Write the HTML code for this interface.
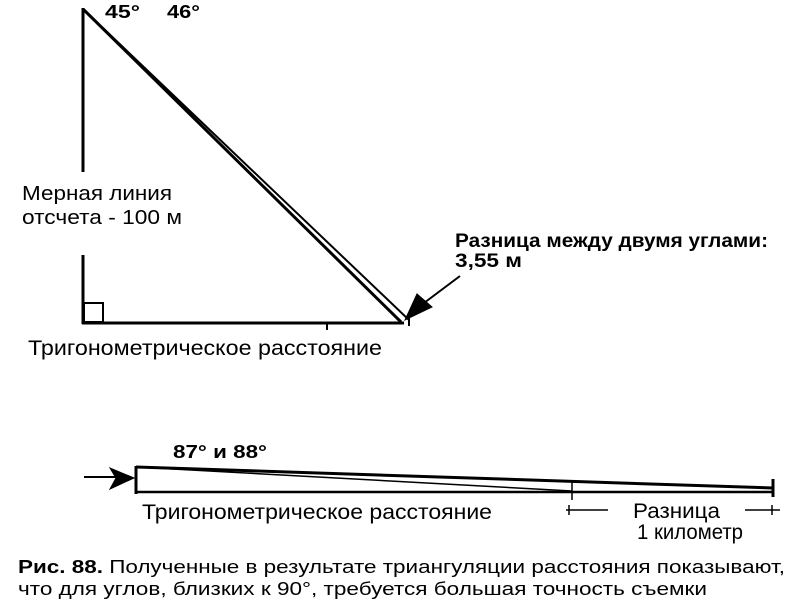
<!DOCTYPE html>
<html><head><meta charset="utf-8"><style>
body{margin:0;background:#fff;width:795px;height:615px;overflow:hidden;position:relative}
text{font-family:"Liberation Sans",sans-serif;fill:#000}
</style></head><body>
<svg width="795" height="615" style="position:absolute;left:0;top:0" stroke="#000" fill="none">
<line x1="83" y1="8" x2="83" y2="172" stroke-width="3"/>
<line x1="83" y1="255" x2="83" y2="324" stroke-width="3"/>
<line x1="82" y1="323" x2="404" y2="323" stroke-width="3"/>
<rect x="84" y="303" width="19" height="19" stroke-width="2"/>
<line x1="327" y1="323" x2="327" y2="330" stroke-width="2"/>
<line x1="83" y1="9" x2="401" y2="322" stroke-width="3"/>
<line x1="83" y1="9" x2="409" y2="320" stroke-width="2"/>
<line x1="409" y1="316" x2="409" y2="326" stroke-width="2"/>
<line x1="460" y1="276" x2="420" y2="306" stroke-width="2"/>
<polygon points="405,320 417,294 432,307" fill="#000"/>
<line x1="136" y1="466" x2="136" y2="494" stroke-width="3"/>
<line x1="135" y1="492" x2="773" y2="492" stroke-width="2.5"/>
<line x1="136" y1="467" x2="773" y2="488" stroke-width="3"/>
<line x1="136" y1="467" x2="572" y2="491" stroke-width="1.5"/>
<line x1="572" y1="482" x2="572" y2="500" stroke-width="1.5"/>
<line x1="773" y1="479" x2="773" y2="497" stroke-width="3"/>
<line x1="84" y1="477" x2="120" y2="477" stroke-width="2"/>
<polygon points="134,478 110,468 116,478 110,489" fill="#000"/>
<line x1="566" y1="510" x2="608" y2="510" stroke-width="1.5"/>
<line x1="569" y1="505" x2="569" y2="515" stroke-width="1.5"/>
<line x1="745" y1="510" x2="780" y2="510" stroke-width="1.5"/>
<line x1="772" y1="505" x2="772" y2="515" stroke-width="1.5"/>
<g stroke="none">
<text x="105" y="18" font-size="18" font-weight="bold" textLength="35" lengthAdjust="spacingAndGlyphs">45°</text>
<text x="167" y="18" font-size="18" font-weight="bold" textLength="33" lengthAdjust="spacingAndGlyphs">46°</text>
<text x="22" y="200" font-size="20" textLength="150" lengthAdjust="spacingAndGlyphs">Мерная линия</text>
<text x="22" y="224" font-size="20" textLength="160" lengthAdjust="spacingAndGlyphs">отсчета - 100 м</text>
<text x="455" y="247" font-size="19" font-weight="bold" textLength="313" lengthAdjust="spacingAndGlyphs">Разница между двумя углами:</text>
<text x="455" y="267" font-size="19" font-weight="bold" textLength="67" lengthAdjust="spacingAndGlyphs">3,55 м</text>
<text x="28" y="355" font-size="21" textLength="354" lengthAdjust="spacingAndGlyphs">Тригонометрическое расстояние</text>
<text x="173" y="458" font-size="18" font-weight="bold" textLength="94" lengthAdjust="spacingAndGlyphs">87° и 88°</text>
<text x="142" y="519" font-size="21" textLength="350" lengthAdjust="spacingAndGlyphs">Тригонометрическое расстояние</text>
<text x="633" y="518" font-size="21" textLength="87" lengthAdjust="spacingAndGlyphs">Разница</text>
<text x="637" y="539" font-size="21" textLength="106" lengthAdjust="spacingAndGlyphs">1 километр</text>
<text x="18" y="573" font-size="18" textLength="767" lengthAdjust="spacingAndGlyphs"><tspan font-weight="bold">Рис. 88.</tspan> Полученные в результате триангуляции расстояния показывают,</text>
<text x="18" y="595" font-size="18" textLength="689" lengthAdjust="spacingAndGlyphs">что для углов, близких к 90°, требуется большая точность съемки</text>
</g>
</svg>
</body></html>
